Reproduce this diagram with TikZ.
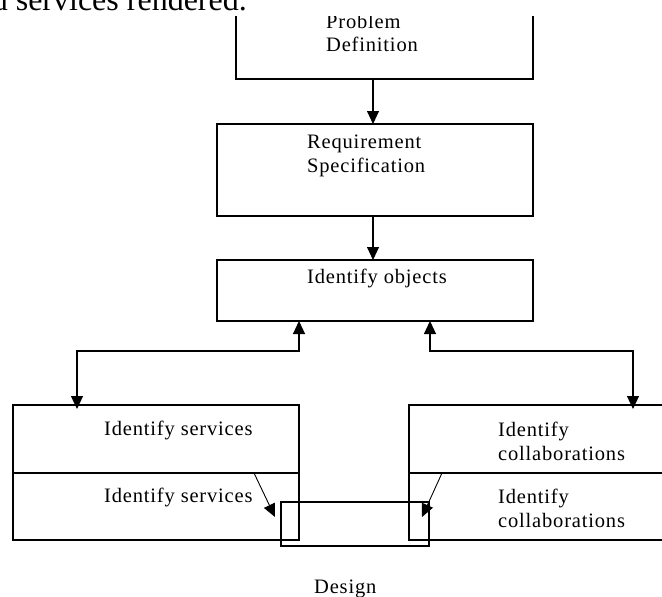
\documentclass[tikz,border=0pt]{standalone}
\usepackage{fontspec}
\setmainfont{Liberation Serif}
\newfontfamily\diagfont[LetterSpace=4]{Liberation Serif}
\usetikzlibrary{arrows.meta}

\tikzset{
  tip/.tip={Triangle[length=13pt,width=12pt]},
  box/.style={draw, line width=1.1pt, inner sep=0pt, outer sep=0pt, anchor=north west},
  lbl/.style={inner sep=0pt, anchor=base west, font=\diagfont\fontsize{20.5}{24}\selectfont},
  arr/.style={line width=1.1pt, -tip},
  biarr/.style={line width=1.1pt, tip-tip}
}

\begin{document}
\begin{tikzpicture}[x=1pt, y=-1pt]
  \useasboundingbox (0,0) rectangle (662,597);
  \clip (0,0) rectangle (662,597);

  % tail of the preceding paragraph line
  \node[inner sep=0pt, anchor=base east, font=\fontsize{32}{38}\selectfont] (para) at (247,10.5) {d services rendered.};

  \begin{scope}
    \clip (0,16) rectangle (662,597);

    % boxes
    \node[box, minimum width=297, minimum height=75] (prob) at (236,4) {};
    \node[box, minimum width=316, minimum height=92] (req) at (217,124) {};
    \node[box, minimum width=316, minimum height=61] (obj) at (217,260) {};
    \node[box, minimum width=286, minimum height=68] (svcA) at (13,405) {};
    \node[box, minimum width=286, minimum height=67] (svcB) at (13,473) {};
    \node[box, minimum width=270, minimum height=68] (colA) at (409,405) {};
    \node[box, minimum width=270, minimum height=67] (colB) at (409,473) {};
    \node[box, minimum width=148, minimum height=44] (design) at (281,502) {};

    % labels
    \node[lbl] (probT1) at (326,28) {Problem};
    \node[lbl] (probT2) at (326,51) {Definition};
    \node[lbl] (reqT1) at (307,148) {Requirement};
    \node[lbl] (reqT2) at (307,172) {Specification};
    \node[lbl] (objT) at (307,283) {Identify objects};
    \node[lbl] (svcAT) at (104,435) {Identify services};
    \node[lbl] (svcBT) at (104,502) {Identify services};
    \node[lbl] (colAT1) at (498,436) {Identify};
    \node[lbl] (colAT2) at (498,460) {collaborations};
    \node[lbl] (colBT1) at (498,503) {Identify};
    \node[lbl] (colBT2) at (498,527) {collaborations};
    \node[lbl] (designT) at (314,593) {Design};

    % vertical flow
    \coordinate (mid) at (373,0);
    \draw[arr] (mid |- prob.south) -- (mid |- req.north);
    \draw[arr] (mid |- req.south) -- (mid |- obj.north);

    % two-way links between objects and services / collaborations
    \coordinate (lj) at (77,351);
    \coordinate (lm) at (299,351);
    \draw[biarr, shorten <=-4pt] (lj |- svcA.north) -- (lj) -- (lm) -- (lm |- obj.south);
    \coordinate (rj) at (633,351);
    \coordinate (rm) at (430,351);
    \draw[biarr, shorten <=-4pt] (rj |- colA.north) -- (rj) -- (rm) -- (rm |- obj.south);

    % links into the design box
    \coordinate (ds) at (254,0);
    \coordinate (de) at (442,0);
    \draw[arr, line width=0.9pt] (ds |- svcA.south) -- ([xshift=-6pt,yshift=7pt]design.west);
    \draw[arr, line width=0.9pt] (de |- colA.south) -- ([xshift=-7pt,yshift=7pt]design.east);
  \end{scope}
\end{tikzpicture}
\end{document}
